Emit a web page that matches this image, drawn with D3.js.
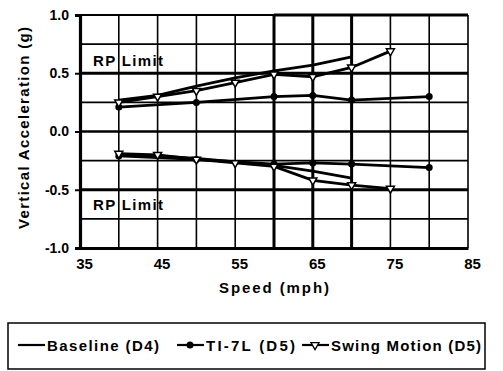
<!DOCTYPE html>
<html>
<head>
<meta charset="utf-8">
<script src="https://cdn.jsdelivr.net/npm/d3@7"></script>
<style>
body{margin:0;background:#fff;}
text{font-family:"Liberation Sans",Arial,sans-serif;font-weight:bold;fill:#000;}
</style>
</head>
<body>
<script>
// values (speed in mph, acceleration in g)
var baseSpeed=[40,45,50,55,60,65,70]
var basePos=[0.27,0.31,0.39,0.46,0.52,0.57,0.64]
var baseNeg=[-0.20,-0.21,-0.23,-0.26,-0.29,-0.34,-0.40]
var tiSpeed=[40,50,60,65,70,80]
var tiPos=[0.21,0.25,0.30,0.31,0.27,0.30]
var tiNeg=[-0.21,-0.24,-0.28,-0.27,-0.28,-0.31]
var swSpeed=[40,45,50,55,60,65,70,75]
var swPos=[0.25,0.30,0.35,0.42,0.49,0.47,0.55,0.69]
var swNeg=[-0.19,-0.20,-0.24,-0.27,-0.30,-0.42,-0.46,-0.49]
var xTicks=[35,45,55,65,75,85]
var yTicks=[1.0,0.5,0.0,-0.5,-1.0]
var limits=[0.5,-0.5]
var legendNames=["Baseline (D4)","TI-7L (D5)","Swing Motion (D5)"]

var screen={width:503,height:371}
var margins={top:15,left:80,right:35,bottom:123}
var width=screen.width-margins.left-margins.right
var height=screen.height-margins.top-margins.bottom

var xScale=d3.scaleLinear().domain([35,85]).range([0,width])
var yScale=d3.scaleLinear().domain([-1,1]).range([height,0])

var svg=d3.select("body").append("svg")
          .attr("width",screen.width)
          .attr("height",screen.height)
var plot=svg.append("g")
            .attr("transform","translate("+margins.left+","+margins.top+")")

// grid every 5 mph and 0.25 g
var vGrid=d3.range(35,86,5)
var hGrid=d3.range(-1,1.01,0.25)
plot.selectAll(".vg").data(vGrid).enter().append("line")
    .attr("x1",function(d){return xScale(d)}).attr("x2",function(d){return xScale(d)})
    .attr("y1",0).attr("y2",height)
    .attr("stroke","#000")
    .attr("stroke-width",function(d){return (d>=60&&d<=70)?3:1.6})
plot.selectAll(".hg").data(hGrid).enter().append("line")
    .attr("x1",0).attr("x2",width)
    .attr("y1",function(d){return yScale(d)}).attr("y2",function(d){return yScale(d)})
    .attr("stroke","#000")
    .attr("stroke-width",function(d){return Math.abs(d)<0.01?2.6:1.6})

// RP limit lines
plot.selectAll(".lim").data(limits).enter().append("line")
    .attr("x1",0).attr("x2",width)
    .attr("y1",function(d){return yScale(d)}).attr("y2",function(d){return yScale(d)})
    .attr("stroke","#000").attr("stroke-width",3.2)
plot.append("text").attr("x",13).attr("y",yScale(0.5)-7)
    .style("font-size","15px").attr("textLength",70).text("RP Limit")
plot.append("text").attr("x",13).attr("y",yScale(-0.5)+20)
    .style("font-size","15px").attr("textLength",70).text("RP Limit")

// axes
var xAxis=d3.axisBottom(xScale).tickValues(xTicks).tickSize(0).tickPadding(10)
var yAxis=d3.axisLeft(yScale).tickValues(yTicks).tickSize(5).tickPadding(6)
    .tickFormat(d3.format(".1f"))
var gx=plot.append("g").attr("transform","translate(0,"+height+")").call(xAxis)
var gy=plot.append("g").call(yAxis)
gx.select(".domain").attr("stroke-width",3.2)
gy.select(".domain").attr("stroke-width",3.2)
gy.selectAll(".tick line").attr("stroke-width",2)
gx.selectAll("text").style("font-size","15px").attr("font-family",null).attr("fill","#000")
  .attr("dx",4)
gy.selectAll("text").style("font-size","14px").attr("font-family",null).attr("fill","#000")
  .text(function(d){return d3.format(".1f")(d).replace("\u2212","-")})
plot.append("line").attr("x1",0).attr("x2",width).attr("y1",0).attr("y2",0)
    .attr("stroke","#000").attr("stroke-width",2)
plot.append("line").attr("x1",xScale(60)).attr("x2",width).attr("y1",0).attr("y2",0)
    .attr("stroke","#000").attr("stroke-width",3)

svg.append("text").attr("transform","translate(29,128) rotate(-90)")
   .attr("text-anchor","middle").style("font-size","15px")
   .attr("textLength",202).text("Vertical Acceleration (g)")
svg.append("text").attr("x",margins.left+width/2).attr("y",293)
   .attr("text-anchor","middle").style("font-size","15px")
   .attr("textLength",110).text("Speed (mph)")

// data lines
var line=d3.line().x(function(d){return xScale(d[0])}).y(function(d){return yScale(d[1])})
var series=[
  {sp:baseSpeed,v:basePos,m:"none"},{sp:baseSpeed,v:baseNeg,m:"none"},
  {sp:tiSpeed,v:tiPos,m:"circle"},{sp:tiSpeed,v:tiNeg,m:"circle"},
  {sp:swSpeed,v:swPos,m:"tri"},{sp:swSpeed,v:swNeg,m:"tri"}]
var triangle=d3.symbol().type(d3.symbolTriangle).size(28)
series.forEach(function(s){
  var pts=s.sp.map(function(x,i){return [x,s.v[i]]})
  plot.append("path").datum(pts).attr("d",line)
      .attr("fill","none").attr("stroke","#000").attr("stroke-width",2.8)
  if(s.m=="circle"){
    plot.selectAll(null).data(pts).enter().append("circle")
        .attr("cx",function(d){return xScale(d[0])}).attr("cy",function(d){return yScale(d[1])})
        .attr("r",3.5).attr("fill","#000")
  }
  if(s.m=="tri"){
    plot.selectAll(null).data(pts).enter().append("path")
        .attr("d",triangle)
        .attr("transform",function(d){return "translate("+xScale(d[0])+","+yScale(d[1])+") rotate(180)"})
        .attr("fill","#fff").attr("stroke","#000").attr("stroke-width",1.5)
  }
})

// legend
var legend=svg.append("g").attr("transform","translate(8,323)")
legend.append("rect").attr("width",477).attr("height",46)
      .attr("fill","none").attr("stroke","#000").attr("stroke-width",1.5)
var legX=[10,169,294]
var legW=[112,89,150]
legendNames.forEach(function(name,i){
  var g=legend.append("g").attr("transform","translate("+legX[i]+",22)")
  g.append("line").attr("x1",0).attr("x2",27).attr("stroke","#000").attr("stroke-width",2.2)
  if(i==1)g.append("circle").attr("cx",13).attr("r",3.5).attr("fill","#000")
  if(i==2)g.append("path").attr("d",triangle).attr("transform","translate(13,0) rotate(180)")
           .attr("fill","#fff").attr("stroke","#000").attr("stroke-width",1.3)
  g.append("text").attr("x",29).attr("y",5.5).style("font-size","15px")
   .attr("textLength",legW[i]).text(name)
})
</script>
</body>
</html>
